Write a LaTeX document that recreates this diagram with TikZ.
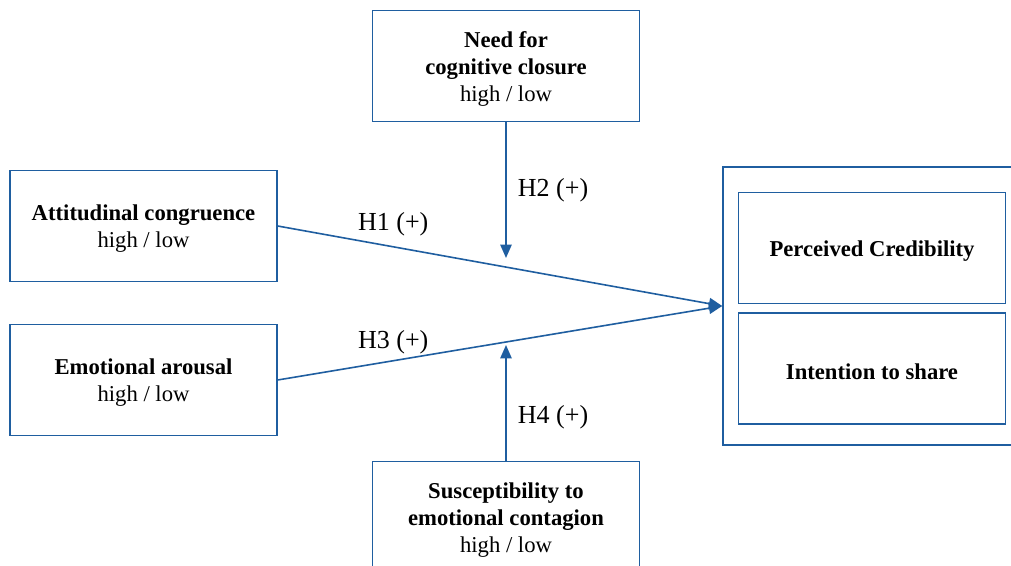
\documentclass[tikz,border=0pt]{standalone}
\usepackage{fontspec}
\setmainfont{Liberation Serif}
\usetikzlibrary{arrows.meta,positioning}
\definecolor{linkblue}{RGB}{31,94,160}
\newcommand{\vargap}{\rule{0pt}{16pt}}

\begin{document}
\begin{tikzpicture}[x=0.75pt,y=-0.75pt,
  var/.style={draw=linkblue,line width=1.2pt,minimum width=200pt,minimum height=83pt,
    inner sep=0pt,align=center,font=\fontsize{17}{20.3}\selectfont},
  link/.style={draw=linkblue,line width=1.2pt,-{Triangle[length=10pt,width=8.5pt]}},
  hyp/.style={font=\fontsize{19.5}{22}\selectfont}]
\useasboundingbox (0,0) rectangle (1011,566);
\clip (0,0) rectangle (1011,566);
% moderators
\node[var] (need) at (506,66) {\vargap\textbf{Need for}\\\textbf{cognitive closure}\\high / low};
\node[var] (sus) at (506,517) {\vargap\textbf{Susceptibility to}\\\textbf{emotional contagion}\\high / low};
% predictors
\node[var] (att) at (143.5,226) {\vargap\textbf{Attitudinal congruence}\\high / low};
\node[var] (emo) at (143.5,380) {\vargap\textbf{Emotional arousal}\\high / low};
% outcomes
\node[draw=linkblue,line width=1.2pt,minimum width=223.5pt,minimum height=208.5pt] (out) at (872,306) {};
\node[var] (cred) at (872,248) {\vargap\textbf{Perceived Credibility}};
\node[var] (share) at (872,368.5) {\vargap\textbf{Intention to share}};
\coordinate (h2tip) at (506,258);
\coordinate (h4tip) at (506,345);
% paths
\draw[link] (att.east) -- (out.west) node[hyp,pos=0.26,above=4pt] {H1 (+)};
\draw[link] (emo.east) -- (out.west) node[hyp,pos=0.26,above=1pt] {H3 (+)};
\draw[link] (need.south) -- (h2tip) node[hyp,pos=0.5,right=5pt] {H2 (+)};
\draw[link] (sus.north) -- (h4tip) node[hyp,pos=0.38,right=5pt] {H4 (+)};
\end{tikzpicture}
\end{document}
